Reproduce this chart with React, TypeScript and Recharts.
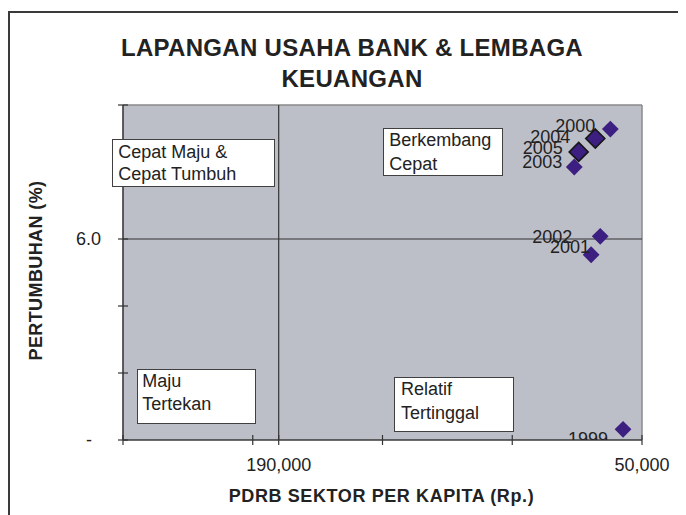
import React from 'react';
import { ScatterChart, Scatter, XAxis, YAxis, ReferenceArea, ReferenceLine } from 'recharts';

// ---- data ----
const years = [1999, 2000, 2001, 2002, 2003, 2004, 2005];
const pdrbPerKapita = [57300, 62200, 69600, 66100, 76100, 68000, 74400];
const pertumbuhan = [0.32, 9.28, 5.53, 6.08, 8.15, 9.0, 8.6];

const xTicks = [250000, 200000, 190000, 150000, 100000, 50000];
const xTickLabels: Record<number, string> = { 190000: '190,000', 50000: '50,000' };
const yTicks = [0, 2, 4, 6, 8, 10];
const yTickLabels: Record<number, string> = { 0: '-', 6: '6.0' };
const xCross = 190000;
const yCross = 6;

const title = ['LAPANGAN USAHA BANK & LEMBAGA', 'KEUANGAN'];
const xTitle = 'PDRB SEKTOR PER KAPITA (Rp.)';
const yTitle = 'PERTUMBUHAN (%)';
const quadrantTexts = [
  ['Cepat Maju &', 'Cepat Tumbuh'],
  ['Berkembang', 'Cepat'],
  ['Maju', 'Tertekan'],
  ['Relatif', 'Tertinggal'],
];

// ---- styling ----
const FONT = '"Liberation Sans", Arial, Helvetica, sans-serif';
const TEXT = '#222222';
const MARK = '#3C1F80';
const PLOT_BG = '#BDBFC8';
const outlinedYears = new Set([2004, 2005]);
const labelNudge: Record<number, [number, number]> = {
  1999: [-15, 9],
  2000: [-15, -3.5],
  2001: [-1, -8],
  2002: [-28, 0],
  2003: [-12, -5],
  2004: [-25, -2],
  2005: [-16, -4],
};
const boxLayout = [
  { left: 103.7, top: 131.3, width: 163.3, height: 47.4, padL: 5.6, padT: 0.5, lh: 22.3 },
  { left: 375.3, top: 120.3, width: 120, height: 47.7, padL: 5, padT: 0, lh: 23.3 },
  { left: 128.7, top: 361.3, width: 119.3, height: 54.7, padL: 4.6, padT: 0, lh: 22.6 },
  { left: 386.3, top: 369.3, width: 120, height: 54.7, padL: 5.7, padT: 0, lh: 23.3 },
];

const data = years.map((year, i) => ({ year, x: pdrbPerKapita[i], y: pertumbuhan[i] }));

const DiamondWithLabel = (props: any) => {
  const { cx, cy, payload } = props;
  if (cx == null || cy == null) return null;
  const outlined = outlinedYears.has(payload.year);
  const r = outlined ? 9.5 : 8.4;
  const [dx, dy] = labelNudge[payload.year] || [-14, 0];
  return (
    <g>
      <path
        d={`M${cx},${cy - r}L${cx + r},${cy}L${cx},${cy + r}L${cx - r},${cy}Z`}
        fill={MARK}
        stroke={outlined ? '#161616' : 'none'}
        strokeWidth={outlined ? 1.6 : 0}
      />
      <text
        x={cx + dx}
        y={cy + dy + 6.4}
        textAnchor="end"
        fontSize={18}
        fontFamily={FONT}
        fill={TEXT}
      >
        {payload.year}
      </text>
    </g>
  );
};

const XTick = (props: any) => {
  const { x, y, payload } = props;
  const label = xTickLabels[payload.value];
  return (
    <g>
      <line x1={x} x2={x} y1={y - 5} y2={y + 5} stroke="#333" strokeWidth={1.2} />
      {label && (
        <text x={x} y={y + 31} textAnchor="middle" fontSize={18} fontFamily={FONT} fill={TEXT}>
          {label}
        </text>
      )}
    </g>
  );
};

const YTick = (props: any) => {
  const { x, y, payload } = props;
  const label = yTickLabels[payload.value];
  const off = payload.value === 0 ? 31 : 22;
  return (
    <g>
      <line x1={x - 5} x2={x + 5} y1={y} y2={y} stroke="#333" strokeWidth={1.2} />
      {label && (
        <text x={x - off} y={y + 6.4} textAnchor="end" fontSize={18} fontFamily={FONT} fill={TEXT}>
          {label}
        </text>
      )}
    </g>
  );
};

export default function App() {
  return (
    <div style={{ position: 'relative', width: 678, height: 507, fontFamily: FONT }}>
      <style>{`html,body{overflow:hidden}`}</style>
      <div
        style={{
          position: 'absolute',
          left: 0,
          top: 3,
          width: 700,
          height: 520,
          borderTop: '2px solid #3a3a3a',
          borderLeft: '2px solid #3a3a3a',
          boxSizing: 'border-box',
        }}
      />
      <div style={{ position: 'absolute', left: 0, top: 0 }}>
        <ScatterChart width={678} height={507} margin={{ top: 97, right: 44, bottom: 0, left: 0 }}>
          <ReferenceArea
            x1={250000}
            x2={50000}
            y1={0}
            y2={10}
            fill={PLOT_BG}
            fillOpacity={1}
            stroke="none"
            ifOverflow="visible"
          />
          <ReferenceLine y={10} stroke="#8a8a8a" strokeWidth={1.5} />
          <ReferenceLine x={50000} stroke="#8a8a8a" strokeWidth={1.5} />
          <ReferenceLine y={yCross} stroke="#333" strokeWidth={1.2} />
          <ReferenceLine x={xCross} stroke="#333" strokeWidth={1.2} />
          <XAxis
            type="number"
            dataKey="x"
            domain={[50000, 250000]}
            reversed
            ticks={xTicks}
            interval={0}
            tickSize={0}
            tickMargin={0}
            tick={<XTick />}
            tickLine={false}
            axisLine={{ stroke: '#3a3a3a', strokeWidth: 1.6 }}
            height={75}
            allowDataOverflow
            label={(p: any) => {
              const vb = p.viewBox || { x: 115, y: 432, width: 519 };
              return (
                <text
                  x={vb.x + vb.width / 2 - 1}
                  y={vb.y + 62}
                  textAnchor="middle"
                  fontSize={18}
                  fontWeight="bold"
                  letterSpacing={0.6}
                  fontFamily={FONT}
                  fill={TEXT}
                >
                  {xTitle}
                </text>
              );
            }}
          />
          <YAxis
            type="number"
            dataKey="y"
            domain={[0, 10]}
            ticks={yTicks}
            interval={0}
            tickSize={0}
            tickMargin={0}
            tick={<YTick />}
            tickLine={false}
            axisLine={{ stroke: '#3a3a3a', strokeWidth: 1.6 }}
            width={115}
            allowDataOverflow
            label={(p: any) => {
              const vb = p.viewBox || { x: 0, y: 97, height: 335 };
              const cy = vb.y + vb.height / 2 - 2;
              return (
                <text
                  transform={`translate(${vb.x + 34}, ${cy}) rotate(-90)`}
                  textAnchor="middle"
                  fontSize={18}
                  fontWeight="bold"
                  letterSpacing={0.4}
                  fontFamily={FONT}
                  fill={TEXT}
                >
                  {yTitle}
                </text>
              );
            }}
          />
          <Scatter data={data} shape={<DiamondWithLabel />} isAnimationActive={false} />
        </ScatterChart>
      </div>
      <div
        style={{
          position: 'absolute',
          left: 0,
          top: 23.5,
          width: 688,
          textAlign: 'center',
          fontSize: 24,
          fontWeight: 'bold',
          lineHeight: '31px',
          color: TEXT,
          letterSpacing: 0.3,
        }}
      >
        {title.map((t) => (
          <div key={t}>{t}</div>
        ))}
      </div>
      {quadrantTexts.map((lines, i) => {
        const b = boxLayout[i];
        return (
          <div
            key={i}
            style={{
              position: 'absolute',
              left: b.left,
              top: b.top,
              width: b.width,
              height: b.height,
              boxSizing: 'border-box',
              border: '1px solid #404040',
              background: '#ffffff',
              paddingLeft: b.padL,
              paddingTop: b.padT,
              fontSize: 18,
              lineHeight: `${b.lh}px`,
              color: TEXT,
              whiteSpace: 'nowrap',
            }}
          >
            {lines.map((l) => (
              <div key={l}>{l}</div>
            ))}
          </div>
        );
      })}
    </div>
  );
}
